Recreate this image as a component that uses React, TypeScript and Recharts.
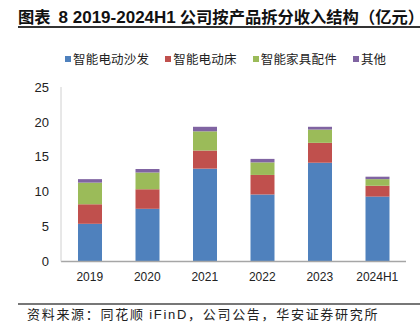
import React from "react";
import { BarChart, Bar, XAxis, YAxis } from "recharts";

const categories = ["2019", "2020", "2021", "2022", "2023", "2024H1"];
const sofa = [5.4, 7.55, 13.3, 9.6, 14.15, 9.3];
const bed = [2.8, 2.8, 2.6, 2.8, 2.85, 1.55];
const parts = [3.1, 2.4, 2.75, 1.8, 1.9, 0.95];
const other = [0.5, 0.5, 0.65, 0.5, 0.4, 0.35];
const yTicks = [0, 5, 10, 15, 20, 25];

const seriesNames = ["智能电动沙发", "智能电动床", "智能家具配件", "其他"];
const seriesColors = ["#4f81bd", "#c0504d", "#9bbb59", "#8064a2"];

const data = categories.map((c, i) => ({
  name: c,
  s0: sofa[i],
  s1: bed[i],
  s2: parts[i],
  s3: other[i],
}));

const CJK = '"Noto Sans CJK SC", "Liberation Sans", sans-serif';
const LATIN = '"Liberation Sans", Arial, sans-serif';

export default function App() {
  return (
    <div
      style={{
        position: "absolute",
        left: 0,
        top: 0,
        width: 420,
        height: 330,
        background: "#fff",
        overflow: "hidden",
      }}
    >
      <div
        style={{
          position: "absolute",
          left: 18,
          top: 4,
          whiteSpace: "nowrap",
          fontSize: 16.3,
          fontFamily: CJK,
          fontWeight: 700,
          color: "#111",
          letterSpacing: 0,
        }}
      >
        图表
        <span style={{ fontFamily: LATIN, fontSize: 17, fontWeight: 700, marginLeft: 8, marginRight: 4 }}>8 2019-2024H1</span>
        公司按产品拆分收入结构（亿元）
      </div>
      <div
        style={{
          position: "absolute",
          left: 18,
          top: 26,
          width: 402,
          height: 1.5,
          background: "#333",
        }}
      />
      <div
        style={{
          position: "absolute",
          left: 65,
          top: 50,
          display: "flex",
          whiteSpace: "nowrap",
        }}
      >
        {seriesNames.map((n, i) => (
          <div
            key={n}
            style={{
              display: "flex",
              alignItems: "center",
              marginRight: 16,
              fontFamily: CJK,
              fontSize: 12.5,
              color: "#222",
              letterSpacing: 0.2,
              lineHeight: "18px",
            }}
          >
            <span
              style={{
                display: "inline-block",
                width: 6,
                height: 6,
                background: seriesColors[i],
                marginRight: 2,
              }}
            />
            <span>{n}</span>
          </div>
        ))}
      </div>
      <div style={{ position: "absolute", left: 0, top: 0 }}>
        <BarChart
          width={420}
          height={330}
          data={data}
          margin={{ top: 87, right: 14, bottom: 38.5, left: 11 }}
          barSize={24}
        >
          <XAxis
            dataKey="name"
            height={30}
            tickLine={false}
            axisLine={{ stroke: "#a6a6a6", strokeWidth: 1.5 }}
            tick={{ fontSize: 12, fontFamily: LATIN, fill: "#222" }}
            tickMargin={5}
            interval={0}
          />
          <YAxis
            width={50}
            domain={[0, 25]}
            ticks={yTicks}
            tickLine={false}
            axisLine={{ stroke: "#d0d0d0" }}
            tick={{ fontSize: 13, fontFamily: LATIN, fill: "#222" }}
            tickMargin={6}
            interval={0}
          />
          {seriesNames.map((n, i) => (
            <Bar
              key={n}
              dataKey={`s${i}`}
              name={n}
              stackId="a"
              fill={seriesColors[i]}
              isAnimationActive={false}
            />
          ))}
        </BarChart>
      </div>
      <div
        style={{
          position: "absolute",
          left: 18,
          top: 303,
          width: 402,
          height: 1.5,
          background: "#777",
        }}
      />
      <div
        style={{
          position: "absolute",
          left: 27,
          top: 304,
          whiteSpace: "nowrap",
          fontSize: 13,
          fontFamily: CJK,
          color: "#222",
          letterSpacing: 1.7,
        }}
      >
        资料来源：同花顺 <span style={{ fontFamily: LATIN }}>iFinD</span>，公司公告，华安证券研究所
      </div>
    </div>
  );
}
